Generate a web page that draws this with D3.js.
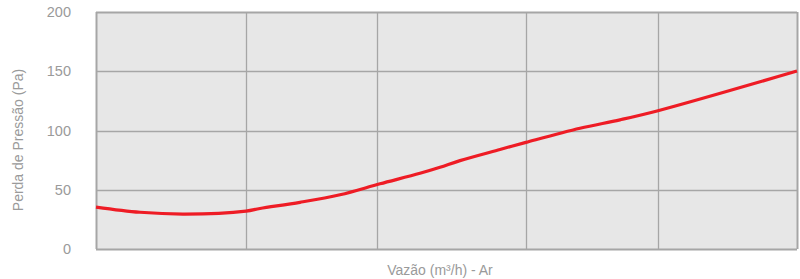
<!DOCTYPE html>
<html><head><meta charset="utf-8">
<script src="https://cdn.jsdelivr.net/npm/d3@7"></script>
<style>body{margin:0;background:#fff}svg{display:block}</style>
</head><body><svg id="c" width="800" height="279"></svg>
<script>
const yTicks = [0, 50, 100, 150, 200];
const xGrid = [0, 150, 281, 430, 562, 701];
const flowX = [0, 44, 89, 150, 164, 204, 244, 284, 324, 344, 364, 404, 430, 484, 524, 562, 701];
const lossY = [35.4, 31, 29.5, 32, 34.2, 39.4, 45.8, 55, 63.9, 69, 74.6, 84, 90, 101.9, 109, 116.7, 150.2];
const yLabel = "Perda de Pressão (Pa)";
const xLabel = "Vazão (m³/h) - Ar";

const svg = d3.select("#c");
const m = {l: 96, r: 797, t: 12, b: 249};
const x = d3.scaleLinear().domain([0, 701]).range([m.l, m.r]);
const y = d3.scaleLinear().domain([0, 200]).range([m.b, m.t]);
const grey = "#a6a6a6", txt = "#9a9a9a";

svg.append("rect").attr("x", m.l).attr("y", m.t).attr("width", m.r - m.l).attr("height", m.b - m.t).attr("fill", "#e7e7e7");
svg.append("g").selectAll("line").data(yTicks).join("line")
  .attr("x1", m.l).attr("x2", m.r).attr("y1", d => Math.round(y(d)) + 0.5).attr("y2", d => Math.round(y(d)) + 0.5)
  .attr("stroke", grey).attr("stroke-width", d => (d === 0 || d === 200) ? 2 : 1.3);
svg.append("g").selectAll("line").data(xGrid).join("line")
  .attr("y1", m.t).attr("y2", m.b).attr("x1", d => Math.round(x(d)) + 0.5).attr("x2", d => Math.round(x(d)) + 0.5)
  .attr("stroke", grey).attr("stroke-width", d => (d === 0 || d === 701) ? 2 : 1.3);

svg.append("g").selectAll("text").data(yTicks).join("text")
  .attr("x", 71).attr("y", d => y(d) + 5).attr("text-anchor", "end")
  .attr("font-family", "Liberation Sans, Arial, sans-serif").attr("font-size", 14.5).attr("fill", txt)
  .text(d => d);

svg.append("text").attr("transform", "translate(23,140) rotate(-90)").attr("text-anchor", "middle")
  .attr("font-family", "Liberation Sans, Arial, sans-serif").attr("font-size", 14).attr("fill", txt).text(yLabel);
svg.append("text").attr("x", 440).attr("y", 275).attr("text-anchor", "middle")
  .attr("font-family", "Liberation Sans, Arial, sans-serif").attr("font-size", 14).attr("fill", txt).text(xLabel);

const pts = flowX.map((v, i) => [v, lossY[i]]);
svg.append("path").datum(pts)
  .attr("d", d3.line().x(d => x(d[0])).y(d => y(d[1])).curve(d3.curveCatmullRom.alpha(0.5)))
  .attr("fill", "none").attr("stroke", "#ee1c25").attr("stroke-width", 3.2);
</script></body></html>
